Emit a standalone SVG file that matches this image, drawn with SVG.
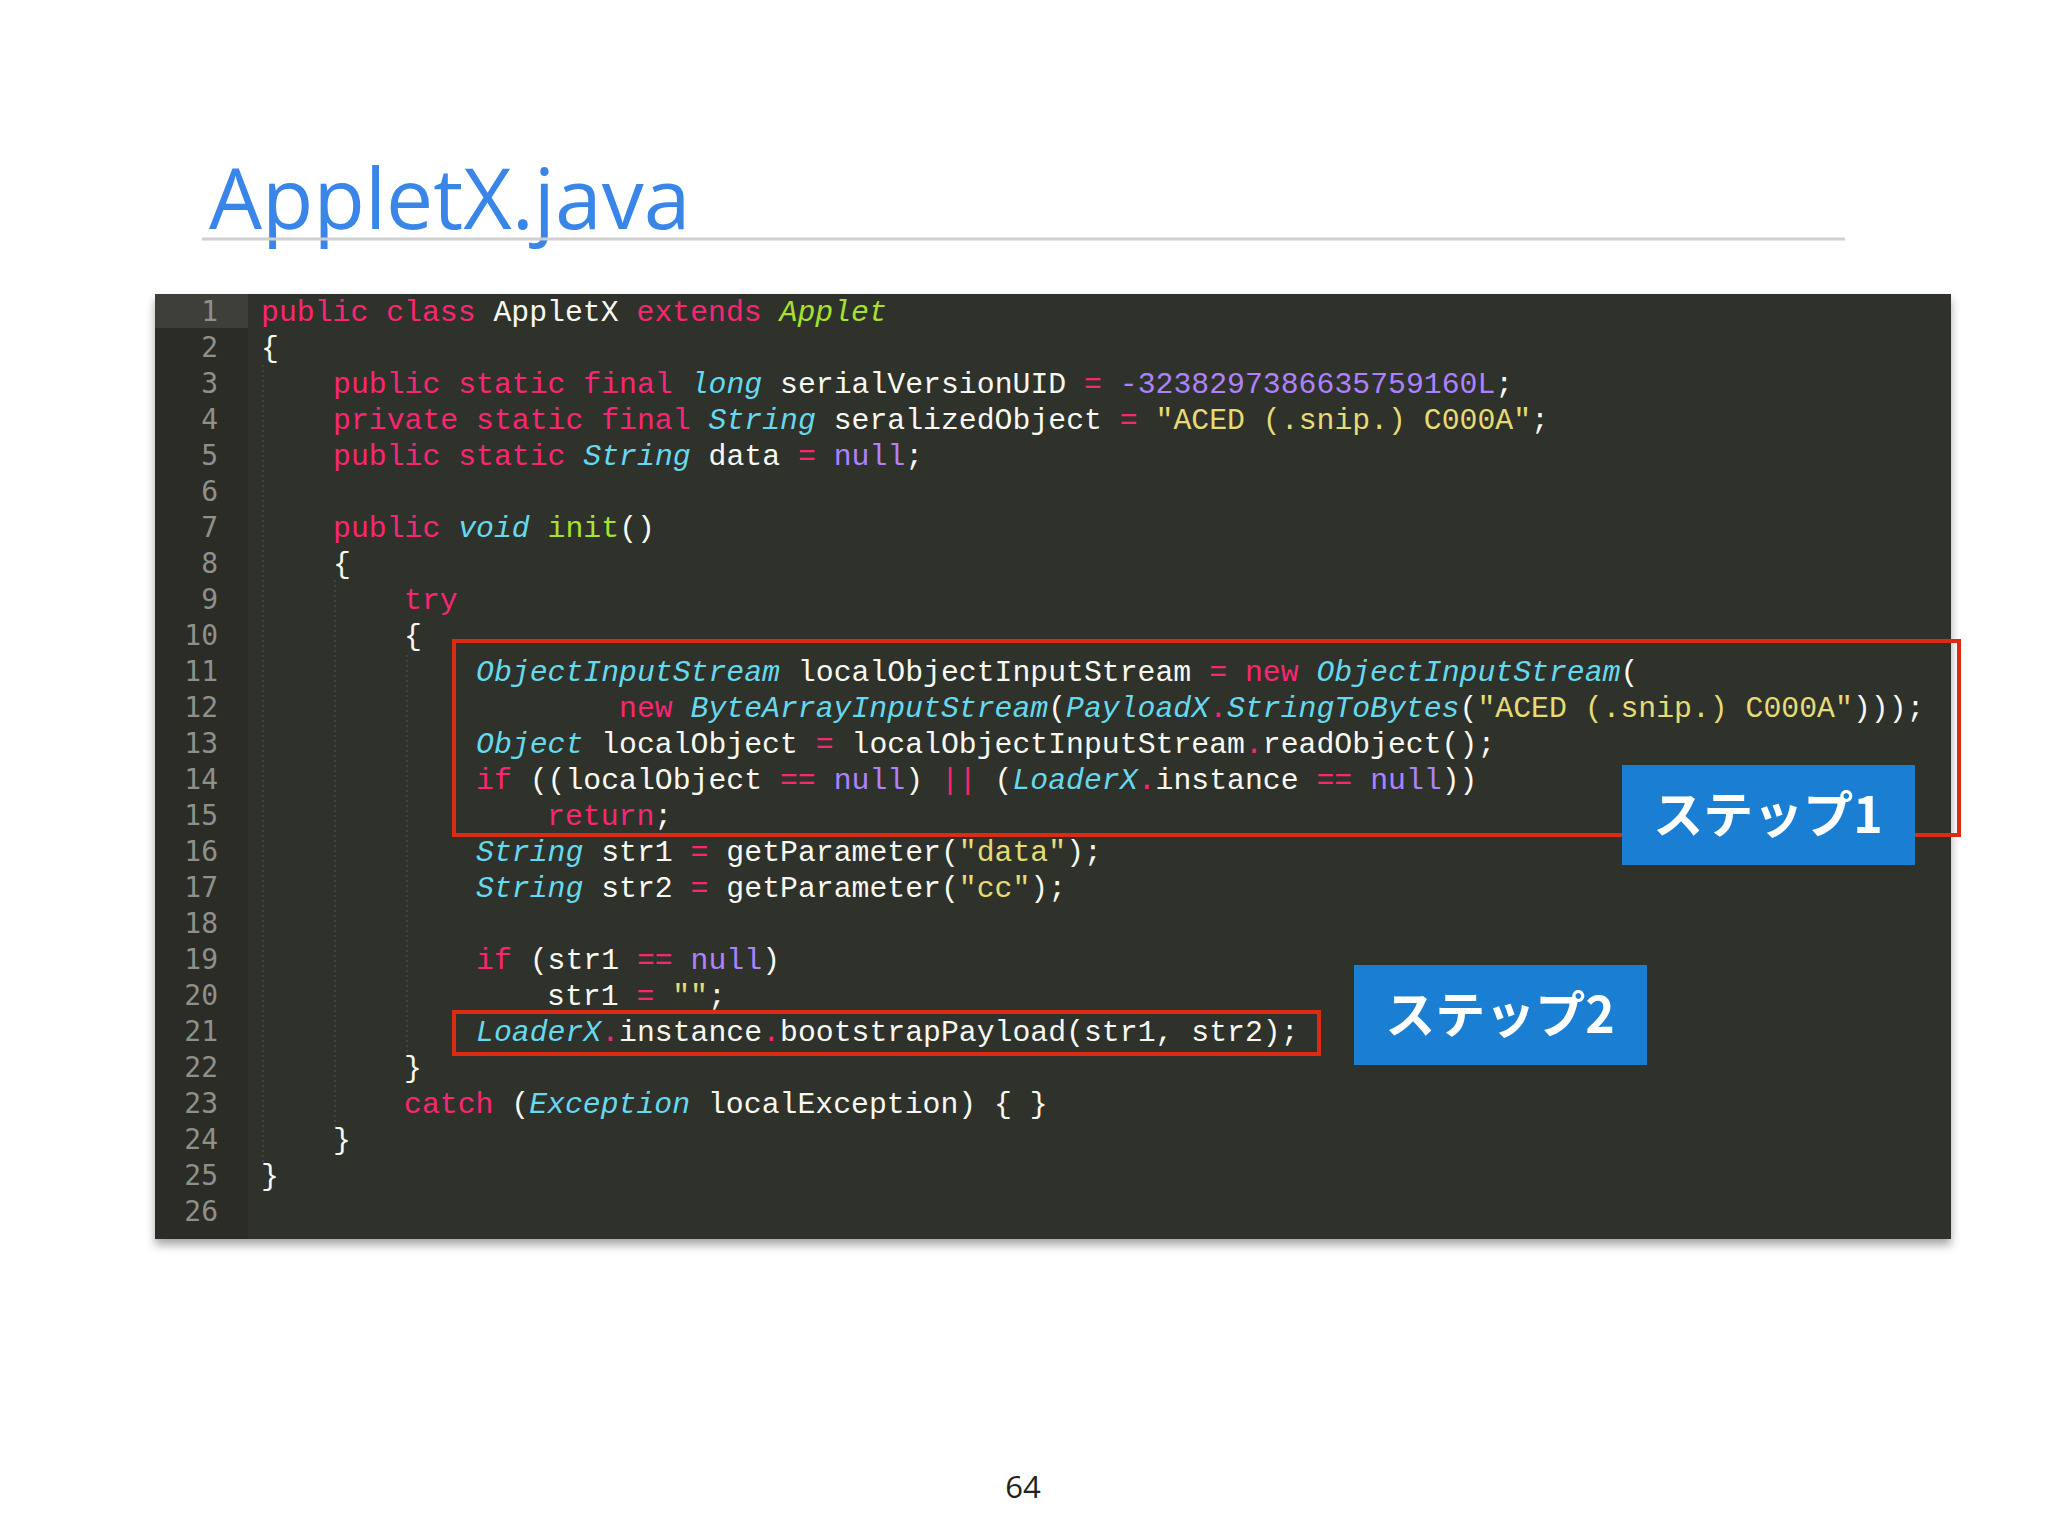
<svg xmlns="http://www.w3.org/2000/svg" width="2048" height="1536" viewBox="0 0 2048 1536">
<defs>
<filter id="sh" x="-5%" y="-5%" width="110%" height="110%"><feDropShadow dx="0" dy="6" stdDeviation="5" flood-color="#000" flood-opacity="0.35"/></filter>
<style>
.c{font-family:"Liberation Mono","DejaVu Sans Mono",monospace;font-size:29.8px;fill:#f8f8f2;white-space:pre}
.n{font-family:"DejaVu Sans Mono","Liberation Mono",monospace;font-size:28px;fill:#8f908a;text-anchor:end}
.k{fill:#f92672}.t{fill:#66d9ef;font-style:italic}.g{fill:#a6e22e}.gi{fill:#a6e22e;font-style:italic}.p{fill:#ae81ff}.s{fill:#e6db74}
.box{fill:none;stroke:#dd2a12;stroke-width:4}
.lbl{font-family:"Noto Sans CJK JP","Noto Sans",sans-serif;font-size:50px;font-weight:bold;fill:#fff;text-anchor:middle}
</style>
</defs>
<rect width="2048" height="1536" fill="#fff"/>
<text x="209" y="229" font-family="'Open Sans','Noto Sans',sans-serif" font-size="84" font-weight="500" fill="#3a86e8">AppletX.java</text>
<line x1="202" y1="239" x2="1845" y2="239" stroke="#cfcfcf" stroke-width="3"/>
<g id="editor">
<rect x="155" y="294" width="1796" height="945" fill="#2f302a" filter="url(#sh)"/>
<rect x="155" y="294" width="93" height="945" fill="#2b2c26"/>
<rect x="155" y="294" width="93" height="34" fill="#3e3f38"/>
<g stroke="#4a4b44" stroke-width="1.5" stroke-dasharray="2,3">
<line x1="263" y1="365" x2="263" y2="1165"/>
<line x1="335" y1="580" x2="335" y2="1130"/>
<line x1="407" y1="655" x2="407" y2="1060"/>
</g>
<g class="n">
<text x="218" y="321">1</text><text x="218" y="357">2</text><text x="218" y="393">3</text><text x="218" y="429">4</text><text x="218" y="465">5</text><text x="218" y="501">6</text><text x="218" y="537">7</text><text x="218" y="573">8</text><text x="218" y="609">9</text><text x="218" y="645">10</text><text x="218" y="681">11</text><text x="218" y="717">12</text><text x="218" y="753">13</text><text x="218" y="789">14</text><text x="218" y="825">15</text><text x="218" y="861">16</text><text x="218" y="897">17</text><text x="218" y="933">18</text><text x="218" y="969">19</text><text x="218" y="1005">20</text><text x="218" y="1041">21</text><text x="218" y="1077">22</text><text x="218" y="1113">23</text><text x="218" y="1149">24</text><text x="218" y="1185">25</text><text x="218" y="1221">26</text>
</g>
<g class="c">
<text x="261" y="321"><tspan class="k">public class</tspan> AppletX <tspan class="k">extends</tspan> <tspan class="gi">Applet</tspan></text>
<text x="261" y="357">{</text>
<text x="333" y="393"><tspan class="k">public static final</tspan> <tspan class="t">long</tspan> serialVersionUID <tspan class="k">=</tspan> <tspan class="p">-3238297386635759160L</tspan>;</text>
<text x="333" y="429"><tspan class="k">private static final</tspan> <tspan class="t">String</tspan> seralizedObject <tspan class="k">=</tspan> <tspan class="s">"ACED (.snip.) C000A"</tspan>;</text>
<text x="333" y="465"><tspan class="k">public static</tspan> <tspan class="t">String</tspan> data <tspan class="k">=</tspan> <tspan class="p">null</tspan>;</text>
<text x="333" y="537"><tspan class="k">public</tspan> <tspan class="t">void</tspan> <tspan class="g">init</tspan>()</text>
<text x="333" y="573">{</text>
<text x="404" y="609"><tspan class="k">try</tspan></text>
<text x="404" y="645">{</text>
<text x="476" y="681"><tspan class="t">ObjectInputStream</tspan> localObjectInputStream <tspan class="k">=</tspan> <tspan class="k">new</tspan> <tspan class="t">ObjectInputStream</tspan>(</text>
<text x="619" y="717"><tspan class="k">new</tspan> <tspan class="t">ByteArrayInputStream</tspan>(<tspan class="t">PayloadX</tspan><tspan class="k">.</tspan><tspan class="t">StringToBytes</tspan>(<tspan class="s">"ACED (.snip.) C000A"</tspan>)));</text>
<text x="476" y="753"><tspan class="t">Object</tspan> localObject <tspan class="k">=</tspan> localObjectInputStream<tspan class="k">.</tspan>readObject();</text>
<text x="476" y="789"><tspan class="k">if</tspan> ((localObject <tspan class="k">==</tspan> <tspan class="p">null</tspan>) <tspan class="k">||</tspan> (<tspan class="t">LoaderX</tspan><tspan class="k">.</tspan>instance <tspan class="k">==</tspan> <tspan class="p">null</tspan>))</text>
<text x="547" y="825"><tspan class="k">return</tspan>;</text>
<text x="476" y="861"><tspan class="t">String</tspan> str1 <tspan class="k">=</tspan> getParameter(<tspan class="s">"data"</tspan>);</text>
<text x="476" y="897"><tspan class="t">String</tspan> str2 <tspan class="k">=</tspan> getParameter(<tspan class="s">"cc"</tspan>);</text>
<text x="476" y="969"><tspan class="k">if</tspan> (str1 <tspan class="k">==</tspan> <tspan class="p">null</tspan>)</text>
<text x="547" y="1005">str1 <tspan class="k">=</tspan> <tspan class="s">""</tspan>;</text>
<text x="476" y="1041"><tspan class="t">LoaderX</tspan><tspan class="k">.</tspan>instance<tspan class="k">.</tspan>bootstrapPayload(str1, str2);</text>
<text x="404" y="1077">}</text>
<text x="404" y="1113"><tspan class="k">catch</tspan> (<tspan class="t">Exception</tspan> localException) { }</text>
<text x="333" y="1149">}</text>
<text x="261" y="1185">}</text>
</g>
</g>
<g id="step1">
<rect class="box" x="454" y="641" width="1505" height="194"/>
<rect x="1622" y="765" width="293" height="100" fill="#1a7fd2"/>
<text class="lbl" x="1768" y="833">ステップ1</text>
</g>
<g id="step2">
<rect class="box" x="454" y="1012" width="865" height="42"/>
<rect x="1354" y="965" width="293" height="100" fill="#1a7fd2"/>
<text class="lbl" x="1500" y="1033">ステップ2</text>
</g>
<text x="1023" y="1498" font-family="'Open Sans','Noto Sans',sans-serif" font-size="31" fill="#222" text-anchor="middle">64</text>
</svg>
